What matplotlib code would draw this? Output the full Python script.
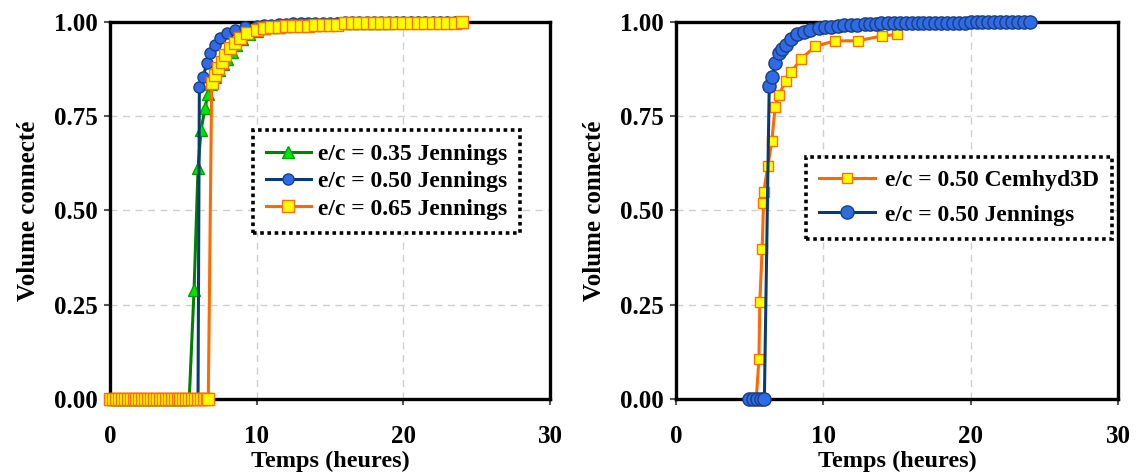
import matplotlib
matplotlib.use('Agg')
import matplotlib.pyplot as plt

# police : serif gras
plt.rcParams['font.family'] = ['Liberation Serif', 'DejaVu Serif']
plt.rcParams['font.weight'] = 'bold'

# ---- donnees, graphique de gauche (Jennings) ----
T_035 = [0.0, 0.2, 0.4, 0.6, 0.8, 1.0, 1.2, 1.4, 1.6, 1.8, 2.0, 2.2, 2.4, 2.6, 2.8, 3.0, 3.2, 3.4, 3.6, 3.8,
         4.0, 4.2, 4.4, 4.6, 4.8, 5.0, 5.2, 5.4,
         5.73, 6.0, 6.2, 6.48, 6.68, 6.9, 7.16, 7.4, 7.7, 8.0, 8.3, 8.6, 9.0, 9.5,
         10.0, 10.5, 11.0, 11.5, 12.0, 12.5, 13.0, 13.5, 14.0, 14.5, 15.0, 15.5, 16.0, 16.5, 17.0, 17.5,
         18.0, 18.5, 19.0, 19.5, 20.0, 20.5, 21.0, 21.5, 22.0, 22.5, 23.0, 23.5, 24.0]
V_035 = [0.0, 0.0, 0.0, 0.0, 0.0, 0.0, 0.0, 0.0, 0.0, 0.0, 0.0, 0.0, 0.0, 0.0, 0.0, 0.0, 0.0, 0.0, 0.0, 0.0,
         0.0, 0.0, 0.0, 0.0, 0.0, 0.0, 0.0, 0.0,
         0.29, 0.613, 0.713, 0.772, 0.81, 0.835, 0.855, 0.872, 0.888, 0.902, 0.92, 0.938, 0.955, 0.968,
         0.977, 0.983, 0.987, 0.988, 0.99, 0.991, 0.991, 0.992, 0.993, 0.994, 0.995, 0.996, 0.997, 0.997, 0.997, 0.998,
         0.998, 0.998, 0.998, 0.999, 0.999, 0.999, 0.999, 0.999, 1.0, 1.0, 1.0, 1.0, 1.0]

T_050 = [0.0, 0.2, 0.4, 0.6, 0.8, 1.0, 1.2, 1.4, 1.6, 1.8, 2.0, 2.2, 2.4, 2.6, 2.8, 3.0, 3.2, 3.4, 3.6, 3.8,
         4.0, 4.2, 4.4, 4.6, 4.8, 5.0, 5.2, 5.4, 5.6, 5.8, 6.0,
         6.09, 6.36, 6.59, 6.82, 7.16, 7.5, 7.95, 8.52, 9.2, 10.0,
         10.5, 11.0, 11.5, 12.0, 12.5, 13.0, 13.5, 14.0, 14.5, 15.0, 15.5, 16.0, 16.5, 17.0, 17.5,
         18.0, 18.5, 19.0, 19.5, 20.0, 20.5, 21.0, 21.5, 22.0, 22.5, 23.0, 23.5, 24.0]
V_050 = [0.0, 0.0, 0.0, 0.0, 0.0, 0.0, 0.0, 0.0, 0.0, 0.0, 0.0, 0.0, 0.0, 0.0, 0.0, 0.0, 0.0, 0.0, 0.0, 0.0,
         0.0, 0.0, 0.0, 0.0, 0.0, 0.0, 0.0, 0.0, 0.0, 0.0, 0.0,
         0.828, 0.855, 0.89, 0.917, 0.939, 0.957, 0.97, 0.979, 0.986, 0.99,
         0.992, 0.993, 0.994, 0.995, 0.996, 0.996, 0.997, 0.997, 0.998, 0.998, 0.998, 0.999, 0.999, 0.999, 0.999,
         0.999, 1.0, 1.0, 1.0, 1.0, 1.0, 1.0, 1.0, 1.0, 1.0, 1.0, 1.0, 1.0]

T_065 = [0.0, 0.2, 0.4, 0.6, 0.8, 1.0, 1.2, 1.4, 1.6, 1.8, 2.0, 2.2, 2.4, 2.6, 2.8, 3.0, 3.2, 3.4, 3.6, 3.8,
         4.0, 4.2, 4.4, 4.6, 4.8, 5.0, 5.2, 5.4, 5.6, 5.8, 6.0, 6.2, 6.4, 6.6, 6.7,
         6.93, 7.16, 7.38, 7.61, 7.84, 8.18, 8.52, 8.86, 9.32, 10.0,
         10.5, 11.0, 11.5, 12.0, 12.5, 13.0, 13.5, 14.0, 14.5, 15.0, 15.5,
         16.0, 16.5, 17.0, 17.5, 18.0, 18.5, 19.0, 19.5, 20.0, 20.5, 21.0, 21.5, 22.0, 22.5, 23.0, 23.5, 24.0]
V_065 = [0.0, 0.0, 0.0, 0.0, 0.0, 0.0, 0.0, 0.0, 0.0, 0.0, 0.0, 0.0, 0.0, 0.0, 0.0, 0.0, 0.0, 0.0, 0.0, 0.0,
         0.0, 0.0, 0.0, 0.0, 0.0, 0.0, 0.0, 0.0, 0.0, 0.0, 0.0, 0.0, 0.0, 0.0, 0.0,
         0.837, 0.859, 0.877, 0.895, 0.912, 0.93, 0.943, 0.957, 0.97, 0.979,
         0.984, 0.988, 0.988, 0.99, 0.99, 0.99, 0.99, 0.991, 0.991, 0.991, 0.992,
         0.997, 0.997, 0.997, 0.997, 0.997, 0.997, 0.997, 0.997, 0.997, 0.997, 0.997, 0.997, 0.997, 0.998, 0.998, 0.998, 1.0]

# ---- donnees, graphique de droite ----
T_CEM = [5.45, 5.63, 5.69, 5.85, 5.94, 5.96, 6.24, 6.51, 6.73, 6.96, 7.46, 7.8, 8.5, 9.43, 10.77, 12.33, 13.97, 15.0]
V_CEM = [0.0, 0.105, 0.257, 0.399, 0.519, 0.55, 0.619, 0.685, 0.775, 0.806, 0.843, 0.867, 0.902, 0.935, 0.95, 0.95, 0.963, 0.967]

T_JEN = [4.95, 5.2, 5.5, 5.75, 6.0,
         6.33, 6.55, 6.73, 6.96, 7.19, 7.46, 7.8, 8.2, 8.66, 9.1, 9.68, 10.1, 10.5, 11.0, 11.4, 11.9, 12.3, 12.8, 13.2, 13.6, 13.9,
         14.4, 14.8, 15.2, 15.6, 16.0, 16.4, 16.8, 17.2, 17.6, 18.0, 18.4, 18.8, 19.2, 19.6, 20.0, 20.4, 20.8, 21.2, 21.6,
         22.0, 22.4, 22.8, 23.2, 23.6, 24.0]
V_JEN = [0.0, 0.0, 0.0, 0.0, 0.0,
         0.83, 0.855, 0.891, 0.917, 0.928, 0.939, 0.954, 0.967, 0.974, 0.979, 0.983, 0.986, 0.988, 0.99, 0.991, 0.992, 0.993, 0.994, 0.995, 0.995, 0.996,
         0.996, 0.996, 0.997, 0.997, 0.997, 0.997, 0.997, 0.998, 0.998, 0.998, 0.998, 0.998, 0.998, 0.998, 0.999, 0.999, 0.999, 0.999, 0.999,
         0.999, 0.999, 0.999, 0.999, 0.999, 0.999]

Y_TICKS = [0.0, 0.25, 0.5, 0.75, 1.0]
X_TICKS = [0, 10, 20, 30]

GREEN = dict(color='#008000', marker='^', mfc='#00e600', mec='#00a000', ms=8.5, lw=2.2)
BLUE = dict(color='#083b73', marker='o', mfc='#2f6be6', mec='#1a3f80', ms=8, lw=2.2)
ORANGE = dict(color='#ff6a00', marker='s', mfc='#ffff00', mec='#ff7000', ms=8, lw=2.2)


def style_axes(ax):
    ax.set_xlim(0, 30)
    ax.set_ylim(0, 1)
    ax.set_xticks(X_TICKS)
    ax.set_yticks(Y_TICKS)
    ax.set_yticklabels(['%.2f' % v for v in Y_TICKS])
    ax.grid(True, color='#cfcfcf', linestyle=(0, (5, 4)), linewidth=1)
    ax.set_axisbelow(True)
    for s in ax.spines.values():
        s.set_linewidth(2.4)
        s.set_color('black')
        s.set_zorder(1)
    ax.tick_params(axis='both', direction='out', length=4, width=1.5, color='#555555', labelsize=18)
    ax.tick_params(axis='x', pad=15)
    ax.tick_params(axis='y', pad=5)
    for lab in ax.get_xticklabels() + ax.get_yticklabels():
        lab.set_fontweight('bold')
    ax.set_xlabel('Temps (heures)', fontsize=17.5, fontweight='bold', labelpad=2)
    ax.set_ylabel('Volume connecté', fontsize=18, fontweight='bold', labelpad=10)


def style_legend(leg):
    fr = leg.get_frame()
    fr.set_edgecolor('black')
    fr.set_linewidth(2.6)
    fr.set_linestyle((0, (1, 1)))
    for t in leg.get_texts():
        t.set_fontweight('bold')


fig = plt.figure(figsize=(11.38, 4.76), dpi=100)
ax1 = fig.add_axes([0.0967, 0.1618, 0.3866, 0.792])
ax2 = fig.add_axes([0.594, 0.1618, 0.3884, 0.792])

# gauche
ax1.plot(T_035, V_035, label='e/c = 0.35 Jennings', clip_on=False, zorder=3, **GREEN)
ax1.plot(T_050, V_050, label='e/c = 0.50 Jennings', clip_on=False, zorder=4, **BLUE)
ax1.plot(T_065, V_065, label='e/c = 0.65 Jennings', clip_on=False, zorder=5, **ORANGE)
style_axes(ax1)
leg1 = ax1.legend(loc='center', bbox_to_anchor=(0.628, 0.577), fontsize=17, fancybox=False,
                  framealpha=1, handlelength=1.9, labelspacing=0.25, borderpad=0.55, handletextpad=0.3)
style_legend(leg1)

# droite
ORANGE_R = dict(ORANGE, ms=7)
BLUE_R = dict(BLUE, ms=9.5)
ax2.plot(T_CEM, V_CEM, label='e/c = 0.50 Cemhyd3D', clip_on=False, zorder=3, **ORANGE_R)
ax2.plot(T_JEN, V_JEN, label='e/c = 0.50 Jennings', clip_on=False, zorder=4, **BLUE_R)
style_axes(ax2)
leg2 = ax2.legend(loc='center', bbox_to_anchor=(0.64, 0.534), fontsize=17, fancybox=False,
                  framealpha=1, handlelength=2.4, labelspacing=0.55, borderpad=0.55, handletextpad=0.4)
style_legend(leg2)

fig.savefig('out.png', dpi=100)
